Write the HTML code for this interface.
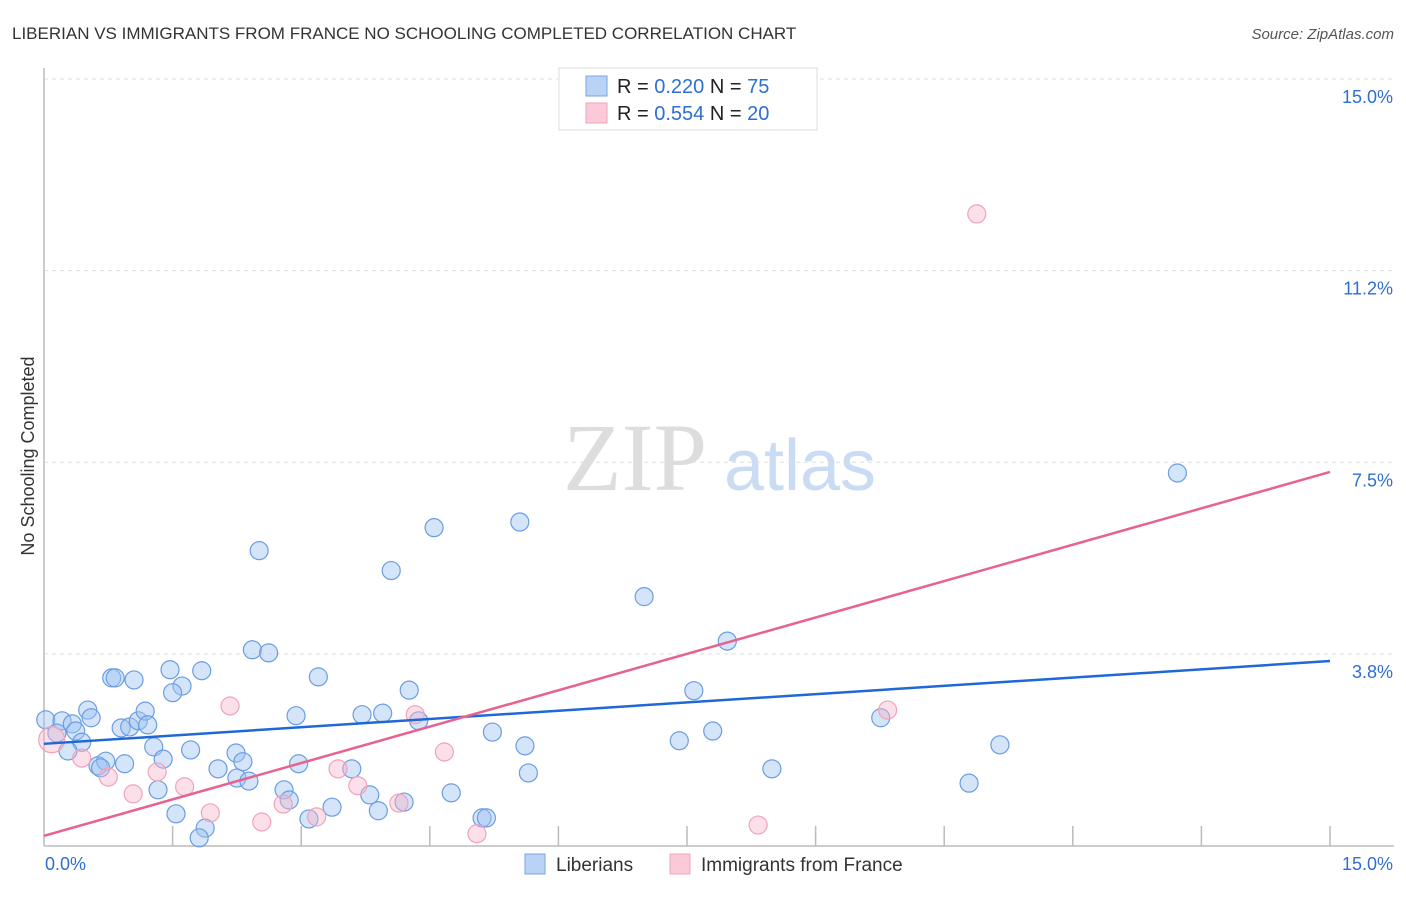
<!DOCTYPE html>
<html><head><meta charset="utf-8"><style>
body{margin:0;background:#fff;font-family:"Liberation Sans",sans-serif}
</style></head><body>
<svg width="1406" height="892" viewBox="0 0 1406 892">
<text x="12" y="39" font-size="17" fill="#333">LIBERIAN VS IMMIGRANTS FROM FRANCE NO SCHOOLING COMPLETED CORRELATION CHART</text>
<text x="1394" y="39" font-size="15" fill="#555" font-style="italic" text-anchor="end">Source: ZipAtlas.com</text>
<g>
<text x="635" y="490" font-size="96" fill="#ddd" font-family="Liberation Serif,serif" text-anchor="middle">ZIP</text>
<text x="800" y="490" font-size="72" fill="#c9dcf3" text-anchor="middle">atlas</text>
</g>
<g id="grid"></g>
<g id="axes"></g>
<g id="marks"></g>
<g>
<rect x="559" y="68" width="258" height="62" fill="#fff" stroke="#ddd"/>
<rect x="586" y="76" width="21" height="20" fill="#b8d3f5" stroke="#7aa6e0"/>
<rect x="586" y="103" width="21" height="20" fill="#fbc9d8" stroke="#f0a3bb"/>
<text x="617" y="93" font-size="20" fill="#222">R = <tspan fill="#2f6fd0">0.220</tspan>   N = <tspan fill="#2f6fd0">75</tspan></text>
<text x="617" y="120" font-size="20" fill="#222">R = <tspan fill="#2f6fd0">0.554</tspan>   N = <tspan fill="#2f6fd0">20</tspan></text>
</g>
<g>
<rect x="525" y="854" width="20" height="20" fill="#b8d3f5" stroke="#7aa6e0"/>
<text x="556" y="871" font-size="19" fill="#333">Liberians</text>
<rect x="670" y="854" width="20" height="20" fill="#fbc9d8" stroke="#f0a3bb"/>
<text x="701" y="871" font-size="19" fill="#333">Immigrants from France</text>
</g>
<text transform="translate(34,456) rotate(-90)" font-size="18" fill="#333" text-anchor="middle">No Schooling Completed</text>
</svg>
<script>
const yTicks=[3.75,7.5,11.25,15];
const yTickLabels=["3.8%","7.5%","11.2%","15.0%"];
const xTicks=[1.5,3,4.5,6,7.5,9,10.5,12,13.5,15];
const blueX=[0.02,0.21,0.33,0.15,0.37,0.44,0.28,0.51,0.55,0.63,0.72,0.66,0.79,0.83,1.05,0.94,0.90,1.00,1.10,1.18,1.21,1.28,1.39,1.33,1.47,1.61,1.50,1.71,1.84,1.54,1.88,1.81,2.03,2.24,2.32,2.25,2.39,2.43,2.62,2.51,2.94,2.97,2.80,2.86,3.09,3.20,3.36,3.59,3.71,3.80,3.90,3.95,4.05,4.20,4.26,4.37,4.55,4.75,5.11,5.16,5.23,5.55,5.61,5.65,7.00,7.41,7.58,7.80,7.97,8.49,9.76,10.79,11.15,13.22];
const blueY=[2.46,2.44,2.38,2.20,2.24,2.02,1.85,2.65,2.50,1.56,1.65,1.52,3.28,3.28,3.24,1.60,2.30,2.32,2.44,2.63,2.36,1.93,1.69,1.09,3.44,3.12,2.99,1.87,3.42,0.62,0.34,0.15,1.50,1.81,1.64,1.32,1.26,3.83,3.77,5.77,2.54,1.60,1.09,0.89,0.52,3.30,0.75,1.50,2.56,0.99,0.68,2.59,5.38,0.85,3.04,2.44,6.22,1.03,0.54,0.54,2.22,6.33,1.95,1.42,4.87,2.05,3.03,2.24,4.00,1.50,2.50,1.22,1.97,7.29];
const pinkX=[0.09,0.44,0.75,1.04,1.32,1.64,1.94,2.17,2.54,2.79,3.18,3.43,3.66,4.14,4.33,4.67,5.05,8.33,9.84,10.88];
const pinkY=[2.07,1.71,1.34,1.01,1.44,1.15,0.64,2.73,0.46,0.81,0.56,1.50,1.17,0.83,2.56,1.83,0.23,0.40,2.65,12.36];
const blueTrend=[1.99,3.61];
const pinkTrend=[0.19,7.31];
const X0=44,X1=1330,Y0=845.5,Y1=79;
const sx=v=>X0+(X1-X0)*v/15, sy=v=>Y0-(Y0-Y1)*v/15;
const NS="http://www.w3.org/2000/svg";
function mk(tag,attrs,parent){const e=document.createElementNS(NS,tag);for(const k in attrs)e.setAttribute(k,attrs[k]);document.getElementById(parent).appendChild(e);return e;}
yTicks.forEach((t,i)=>{
 const g=mk('line',{x1:X0,x2:1394,y1:sy(t),y2:sy(t),stroke:'#ddd','stroke-dasharray':'4,4'},'grid');
 
 
 const l=mk('text',{x:1393,y:sy(t)+24,'font-size':18,fill:'#2f6fd0','text-anchor':'end'},'axes');
 l.textContent=yTickLabels[i];
 
 
});
const ya=mk('line',{x1:X0,x2:X0,y1:68,y2:846,stroke:'#bbb','stroke-width':1.5},'axes');


const xa=mk('line',{x1:X0,x2:X1+64,y1:846,y2:846,stroke:'#bbb','stroke-width':1.5},'axes');


xTicks.forEach(t=>{
 const tk=mk('line',{x1:sx(t),x2:sx(t),y1:826,y2:846,stroke:'#bbb','stroke-width':1.5},'axes');
 
 
});
const xl0=mk('text',{x:45,y:870,'font-size':18,fill:'#2f6fd0'},'axes');xl0.textContent='0.0%';


const xl1=mk('text',{x:1393,y:870,'font-size':18,fill:'#2f6fd0','text-anchor':'end'},'axes');xl1.textContent='15.0%';


blueX.forEach((x,i)=>{
 const c=mk('circle',{cx:sx(x),cy:sy(blueY[i]),r:9,fill:'rgba(160,196,242,0.45)',stroke:'#6b9de2','stroke-width':1.2},'marks');
 
 
});
pinkX.forEach((x,i)=>{
 const c=mk('circle',{cx:sx(x),cy:sy(pinkY[i]),r:i===0?13:9,fill:'rgba(248,182,202,0.42)',stroke:'#f0a3bb','stroke-width':1.2},'marks');
 
 
});
const bl=mk('line',{x1:sx(0),y1:sy(blueTrend[0]),x2:sx(15),y2:sy(blueTrend[1]),stroke:'#1f68d6','stroke-width':2.5},'marks');


const pl=mk('line',{x1:sx(0),y1:sy(pinkTrend[0]),x2:sx(15),y2:sy(pinkTrend[1]),stroke:'#e8628f','stroke-width':2.5},'marks');


</script>
</body></html>
